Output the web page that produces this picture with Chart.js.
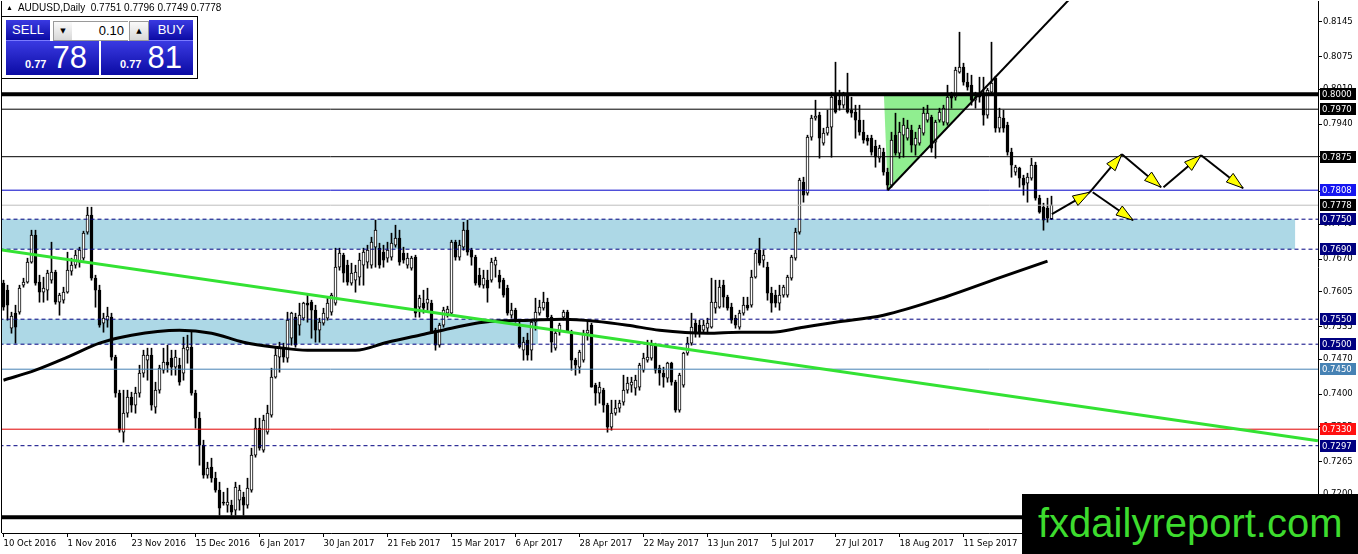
<!DOCTYPE html>
<html>
<head>
<meta charset="utf-8">
<title>AUDUSD Daily</title>
<script src="https://cdn.jsdelivr.net/npm/chart.js@4/dist/chart.umd.min.js"></script>
<style>
  html, body { margin: 0; padding: 0; background: #fff; overflow: hidden; }
  #wrap { position: relative; width: 1358px; height: 554px; }
  #chart { position: absolute; left: 0; top: 0; }
  #hdr { position: absolute; left: 6px; top: 2px; font: 10px 'Liberation Sans', Arial, sans-serif; color: #000; white-space: pre; }
  #hdr .tri { font-size: 7px; vertical-align: 1px; }
  #panel { position: absolute; left: 1px; top: 16px; width: 195px; height: 61px; background: #fff; border: 1px solid #000; }
  .blue { position: absolute; background: linear-gradient(to bottom, #3a3ae2, #0b0ba4); color: #fff; font-family: 'Liberation Sans', Arial, sans-serif; }
  .lbl { top: 20px; height: 20px; width: 44px; font-size: 13px; line-height: 20px; text-align: center; border-bottom: 1px solid #7a7aff; }
  .px { top: 41px; height: 34px; display: flex; align-items: baseline; }
  .px small { font-size: 11px; font-weight: bold; margin-right: 6px; }
  .px b { font-size: 31px; font-weight: normal; line-height: 34px; }
  .spin { position: absolute; top: 21px; width: 18px; height: 18px; background: linear-gradient(#fafafa, #d8d8d8); border: 1px solid #9a9a9a; font: 7px 'DejaVu Sans', sans-serif; text-align: center; line-height: 18px; color: #000; }
  #lot { position: absolute; left: 72px; top: 21px; width: 52px; height: 18px; border-top: 1px solid #9a9a9a; border-bottom: 1px solid #9a9a9a; padding-right: 4px; font: 13px 'Liberation Sans', Arial, sans-serif; text-align: right; line-height: 18px; background: #fff; }
  #wm { position: absolute; left: 1022px; top: 494px; width: 336px; height: 60px; background: #000; color: #3ddc2e; font: 40px 'Liberation Sans', Arial, sans-serif; line-height: 58px; box-sizing: border-box; padding-left: 16px; white-space: nowrap; }
</style>
</head>
<body>
<div id="wrap">
  <canvas id="chart" width="1358" height="554"></canvas>
  <div id="hdr"><span class="tri">▲</span>  AUDUSD,Daily  0.7751 0.7796 0.7749 0.7778</div>
  <div id="panel"></div>
  <div class="blue lbl" style="left:6px">SELL</div>
  <div class="spin" style="left:53px">▼</div>
  <div id="lot">0.10</div>
  <div class="spin" style="left:129px">▲</div>
  <div class="blue lbl" style="left:149px">BUY</div>
  <div class="blue px" style="left:6px;width:93px;padding-left:19px;box-sizing:border-box"><small>0.77</small><b>78</b></div>
  <div class="blue px" style="left:101px;width:92px;padding-left:19px;box-sizing:border-box"><small>0.77</small><b>81</b></div>
  <div id="wm">fxdailyreport.com</div>
</div>
<script>
// Daily bars, index 0 = 10 Oct 2016, one index per trading day
const opens = [
  0.7622, 0.7608, 0.7532, 0.7562, 0.7564, 0.7618, 0.7624, 0.7664, 0.7718, 0.7624,
  0.7604, 0.7608, 0.7628, 0.7644, 0.7584, 0.7588, 0.7604, 0.7646, 0.7658, 0.7664,
  0.7672, 0.7724, 0.7758, 0.7632, 0.7608, 0.7542, 0.7548, 0.7554, 0.7474, 0.7402,
  0.7324, 0.7362, 0.7394, 0.7378, 0.7402, 0.7442, 0.7468, 0.7478, 0.7374, 0.7408,
  0.7448, 0.7464, 0.7472, 0.7454, 0.7458, 0.7442, 0.7488, 0.7494, 0.7402, 0.7352,
  0.7298, 0.7238, 0.7254, 0.7232, 0.7208, 0.7184, 0.7178, 0.7178, 0.7168, 0.7188,
  0.7194, 0.7178, 0.7208, 0.7278, 0.7332, 0.7288, 0.7324, 0.7358, 0.7434, 0.7474,
  0.7494, 0.7472, 0.7512, 0.7554, 0.7538, 0.7552, 0.7582, 0.7584, 0.7568, 0.7528,
  0.7542, 0.7552, 0.7564, 0.7582, 0.7654, 0.7678, 0.7658, 0.7622, 0.7628, 0.7634,
  0.7658, 0.7664, 0.7658, 0.7694, 0.7692, 0.7684, 0.7672, 0.7674, 0.7698, 0.7712,
  0.7682, 0.7658, 0.7652, 0.7674, 0.7574, 0.7582, 0.7582, 0.7582, 0.7528, 0.7498,
  0.7538, 0.7562, 0.7562, 0.7704, 0.7674, 0.7694, 0.7728, 0.7688, 0.7674, 0.7638,
  0.7618, 0.7628, 0.7628, 0.7658, 0.7638, 0.7628, 0.7612, 0.7558, 0.7568, 0.7534,
  0.7488, 0.7508, 0.7488, 0.7544, 0.7562, 0.7572, 0.7584, 0.7554, 0.7492, 0.7524,
  0.7554, 0.7564, 0.7524, 0.7468, 0.7454, 0.7468, 0.7522, 0.7538, 0.7418, 0.7402,
  0.7408, 0.7378, 0.7334, 0.7362, 0.7372, 0.7384, 0.7408, 0.7418, 0.7412, 0.7414,
  0.7448, 0.7468, 0.7472, 0.7498, 0.7452, 0.7442, 0.7432, 0.7462, 0.7424, 0.7368,
  0.7418, 0.7482, 0.7502, 0.7542, 0.7538, 0.7528, 0.7532, 0.7534, 0.7572, 0.7574,
  0.7618, 0.7594, 0.7574, 0.7552, 0.7534, 0.7562, 0.7578, 0.7578, 0.7634, 0.7688,
  0.7668, 0.7654, 0.7602, 0.7598, 0.7582, 0.7598, 0.7598, 0.7632, 0.7672, 0.7724,
  0.7824, 0.7802, 0.7914, 0.7952, 0.7958, 0.7902, 0.7922, 0.7934, 0.7998, 0.7988,
  0.7978, 0.8002, 0.7968, 0.7964, 0.7948, 0.7924, 0.7912, 0.7912, 0.7896, 0.7872,
  0.7884, 0.7844, 0.7818, 0.7918, 0.7882, 0.7918, 0.7912, 0.7928, 0.7898, 0.7902,
  0.7922, 0.7948, 0.7954, 0.7904, 0.7948, 0.7944, 0.7942, 0.7998, 0.7994, 0.8044,
  0.8054, 0.8024, 0.8018, 0.7988, 0.7998, 0.8002, 0.7958, 0.8004, 0.8032, 0.7932,
  0.7952, 0.7938, 0.7884, 0.7844, 0.7852, 0.7832, 0.7822, 0.7832, 0.7858, 0.7792,
  0.7774, 0.7772, 0.7751
];
const highs = [
  0.7628, 0.7618, 0.7564, 0.7578, 0.7618, 0.7632, 0.7672, 0.7728, 0.7728, 0.7638,
  0.7634, 0.7648, 0.7704, 0.7648, 0.7602, 0.7614, 0.7684, 0.7672, 0.7688, 0.7694,
  0.7726, 0.7774, 0.7774, 0.7638, 0.7618, 0.7562, 0.7574, 0.7562, 0.7478, 0.7408,
  0.7408, 0.7408, 0.7404, 0.7414, 0.7458, 0.7488, 0.7492, 0.7492, 0.7424, 0.7458,
  0.7492, 0.7498, 0.7488, 0.7488, 0.7472, 0.7514, 0.7518, 0.7524, 0.7408, 0.7364,
  0.7308, 0.7264, 0.7272, 0.7244, 0.7224, 0.7204, 0.7212, 0.7188, 0.7224, 0.7218,
  0.7204, 0.7232, 0.7292, 0.7352, 0.7352, 0.7358, 0.7378, 0.7452, 0.7494, 0.7504,
  0.7502, 0.7564, 0.7564, 0.7562, 0.7582, 0.7584, 0.7598, 0.7588, 0.7578, 0.7552,
  0.7572, 0.7594, 0.7602, 0.7692, 0.7692, 0.7682, 0.7668, 0.7662, 0.7658, 0.7682,
  0.7692, 0.7698, 0.7714, 0.7748, 0.7702, 0.7698, 0.7704, 0.7722, 0.7738, 0.7728,
  0.7694, 0.7682, 0.7676, 0.7678, 0.7598, 0.7608, 0.7612, 0.7588, 0.7532, 0.7542,
  0.7574, 0.7576, 0.7708, 0.7708, 0.7708, 0.7744, 0.7748, 0.7692, 0.7678, 0.7652,
  0.7648, 0.7648, 0.7672, 0.7674, 0.7648, 0.7632, 0.7618, 0.7582, 0.7572, 0.7544,
  0.7514, 0.7522, 0.7548, 0.7592, 0.7588, 0.7604, 0.7592, 0.7558, 0.7528, 0.7542,
  0.7568, 0.7568, 0.7528, 0.7472, 0.7488, 0.7528, 0.7548, 0.7542, 0.7422, 0.7424,
  0.7412, 0.7382, 0.7388, 0.7388, 0.7388, 0.7438, 0.7434, 0.7434, 0.7438, 0.7462,
  0.7482, 0.7508, 0.7508, 0.7502, 0.7458, 0.7454, 0.7464, 0.7464, 0.7428, 0.7442,
  0.7484, 0.7514, 0.7562, 0.7548, 0.7548, 0.7548, 0.7552, 0.7632, 0.7628, 0.7628,
  0.7628, 0.7598, 0.7582, 0.7558, 0.7568, 0.7594, 0.7594, 0.7648, 0.7688, 0.7712,
  0.7688, 0.7664, 0.7614, 0.7608, 0.7618, 0.7618, 0.7638, 0.7678, 0.7732, 0.7832,
  0.7834, 0.7918, 0.7958, 0.7988, 0.7964, 0.7932, 0.7968, 0.8004, 0.8064, 0.8008,
  0.8004, 0.8042, 0.7994, 0.7978, 0.7978, 0.7948, 0.7918, 0.7918, 0.7908, 0.7898,
  0.7892, 0.7852, 0.7924, 0.7962, 0.7944, 0.7952, 0.7948, 0.7938, 0.7924, 0.7938,
  0.7974, 0.7978, 0.7958, 0.7948, 0.7972, 0.7978, 0.8018, 0.8004, 0.8054, 0.8124,
  0.8062, 0.8042, 0.8038, 0.8004, 0.8034, 0.8034, 0.8012, 0.8104, 0.8036, 0.7972,
  0.7968, 0.7944, 0.7892, 0.7858, 0.7854, 0.7838, 0.7842, 0.7872, 0.7864, 0.7798,
  0.7782, 0.7792, 0.7796
];
const lows = [
  0.7568, 0.7548, 0.7522, 0.7502, 0.7560, 0.7614, 0.7622, 0.7662, 0.7618, 0.7584,
  0.7584, 0.7588, 0.7622, 0.7580, 0.7558, 0.7582, 0.7602, 0.7638, 0.7652, 0.7654,
  0.7668, 0.7720, 0.7628, 0.7574, 0.7534, 0.7524, 0.7534, 0.7468, 0.7394, 0.7324,
  0.7304, 0.7354, 0.7364, 0.7362, 0.7394, 0.7434, 0.7428, 0.7368, 0.7362, 0.7402,
  0.7442, 0.7444, 0.7438, 0.7438, 0.7418, 0.7428, 0.7462, 0.7398, 0.7332, 0.7258,
  0.7232, 0.7232, 0.7224, 0.7204, 0.7158, 0.7178, 0.7164, 0.7158, 0.7158, 0.7168,
  0.7158, 0.7172, 0.7204, 0.7274, 0.7288, 0.7284, 0.7320, 0.7354, 0.7432, 0.7444,
  0.7464, 0.7464, 0.7498, 0.7494, 0.7518, 0.7548, 0.7544, 0.7512, 0.7504, 0.7504,
  0.7538, 0.7548, 0.7558, 0.7578, 0.7648, 0.7624, 0.7618, 0.7618, 0.7604, 0.7618,
  0.7618, 0.7652, 0.7652, 0.7654, 0.7652, 0.7654, 0.7664, 0.7668, 0.7694, 0.7658,
  0.7662, 0.7652, 0.7648, 0.7554, 0.7554, 0.7562, 0.7568, 0.7522, 0.7488, 0.7494,
  0.7534, 0.7554, 0.7558, 0.7668, 0.7668, 0.7688, 0.7678, 0.7658, 0.7618, 0.7614,
  0.7612, 0.7584, 0.7624, 0.7634, 0.7612, 0.7594, 0.7558, 0.7552, 0.7544, 0.7492,
  0.7468, 0.7468, 0.7468, 0.7528, 0.7558, 0.7568, 0.7548, 0.7484, 0.7488, 0.7518,
  0.7548, 0.7524, 0.7448, 0.7438, 0.7442, 0.7464, 0.7508, 0.7414, 0.7378, 0.7382,
  0.7364, 0.7324, 0.7328, 0.7358, 0.7364, 0.7378, 0.7402, 0.7404, 0.7398, 0.7408,
  0.7444, 0.7464, 0.7468, 0.7442, 0.7418, 0.7414, 0.7424, 0.7418, 0.7364, 0.7364,
  0.7414, 0.7478, 0.7498, 0.7514, 0.7514, 0.7522, 0.7524, 0.7532, 0.7562, 0.7572,
  0.7574, 0.7568, 0.7542, 0.7532, 0.7530, 0.7558, 0.7568, 0.7574, 0.7632, 0.7658,
  0.7654, 0.7588, 0.7564, 0.7574, 0.7568, 0.7594, 0.7594, 0.7628, 0.7668, 0.7720,
  0.7784, 0.7798, 0.7908, 0.7948, 0.7872, 0.7898, 0.7918, 0.7874, 0.7962, 0.7968,
  0.7972, 0.7962, 0.7954, 0.7912, 0.7918, 0.7902, 0.7898, 0.7878, 0.7854, 0.7864,
  0.7838, 0.7808, 0.7814, 0.7878, 0.7872, 0.7874, 0.7908, 0.7884, 0.7878, 0.7898,
  0.7918, 0.7944, 0.7884, 0.7872, 0.7944, 0.7938, 0.7938, 0.7972, 0.7988, 0.8042,
  0.8018, 0.8008, 0.7978, 0.7972, 0.7984, 0.7938, 0.7952, 0.7998, 0.7924, 0.7924,
  0.7924, 0.7878, 0.7834, 0.7838, 0.7814, 0.7798, 0.7784, 0.7828, 0.7788, 0.7762,
  0.7728, 0.7744, 0.7749
];
const closes = [
  0.7574, 0.7578, 0.7556, 0.7534, 0.7612, 0.7624, 0.7664, 0.7718, 0.7622, 0.7604,
  0.7612, 0.7642, 0.7644, 0.7584, 0.7598, 0.7604, 0.7648, 0.7658, 0.7678, 0.7688,
  0.7722, 0.7758, 0.7632, 0.7608, 0.7538, 0.7552, 0.7556, 0.7474, 0.7402, 0.7328,
  0.7362, 0.7394, 0.7378, 0.7402, 0.7442, 0.7478, 0.7478, 0.7378, 0.7408, 0.7452,
  0.7464, 0.7458, 0.7454, 0.7474, 0.7424, 0.7492, 0.7494, 0.7402, 0.7352, 0.7298,
  0.7238, 0.7252, 0.7232, 0.7208, 0.7172, 0.7182, 0.7184, 0.7164, 0.7214, 0.7208,
  0.7178, 0.7212, 0.7278, 0.7332, 0.7292, 0.7348, 0.7362, 0.7434, 0.7478, 0.7494,
  0.7474, 0.7548, 0.7562, 0.7498, 0.7558, 0.7582, 0.7578, 0.7568, 0.7528, 0.7544,
  0.7562, 0.7582, 0.7598, 0.7654, 0.7682, 0.7642, 0.7624, 0.7642, 0.7644, 0.7668,
  0.7684, 0.7688, 0.7704, 0.7728, 0.7658, 0.7668, 0.7688, 0.7702, 0.7712, 0.7664,
  0.7668, 0.7672, 0.7672, 0.7562, 0.7592, 0.7572, 0.7590, 0.7522, 0.7498, 0.7538,
  0.7568, 0.7570, 0.7704, 0.7674, 0.7698, 0.7728, 0.7684, 0.7674, 0.7622, 0.7618,
  0.7632, 0.7612, 0.7664, 0.7668, 0.7624, 0.7598, 0.7562, 0.7568, 0.7548, 0.7494,
  0.7504, 0.7478, 0.7544, 0.7564, 0.7574, 0.7584, 0.7554, 0.7504, 0.7522, 0.7538,
  0.7564, 0.7524, 0.7468, 0.7458, 0.7484, 0.7522, 0.7528, 0.7414, 0.7402, 0.7414,
  0.7378, 0.7334, 0.7362, 0.7372, 0.7382, 0.7408, 0.7422, 0.7424, 0.7428, 0.7458,
  0.7472, 0.7474, 0.7498, 0.7448, 0.7442, 0.7434, 0.7462, 0.7424, 0.7368, 0.7438,
  0.7482, 0.7502, 0.7534, 0.7522, 0.7522, 0.7538, 0.7542, 0.7584, 0.7584, 0.7614,
  0.7594, 0.7572, 0.7548, 0.7538, 0.7562, 0.7578, 0.7572, 0.7634, 0.7682, 0.7662,
  0.7678, 0.7602, 0.7582, 0.7582, 0.7598, 0.7614, 0.7634, 0.7674, 0.7724, 0.7828,
  0.7798, 0.7914, 0.7952, 0.7956, 0.7912, 0.7922, 0.7934, 0.7994, 0.7964, 0.7978,
  0.8002, 0.7964, 0.7962, 0.7948, 0.7924, 0.7908, 0.7906, 0.7884, 0.7874, 0.7892,
  0.7844, 0.7818, 0.7908, 0.7882, 0.7924, 0.7938, 0.7932, 0.7898, 0.7912, 0.7932,
  0.7962, 0.7962, 0.7892, 0.7944, 0.7964, 0.7972, 0.7994, 0.7992, 0.8048, 0.8054,
  0.8024, 0.8014, 0.7988, 0.7994, 0.7994, 0.7958, 0.8008, 0.8022, 0.7932, 0.7954,
  0.7932, 0.7884, 0.7858, 0.7854, 0.7832, 0.7818, 0.7834, 0.7858, 0.7792, 0.7764,
  0.7748, 0.7752, 0.7778
];

// time axis labels (one every 16 bars)
const tickIdx = [0, 16, 32, 48, 64, 80, 96, 112, 128, 144, 160, 176, 192, 208, 224, 240];
const tickLabels = ['10 Oct 2016', '1 Nov 2016', '23 Nov 2016', '15 Dec 2016', '6 Jan 2017', '30 Jan 2017',
  '21 Feb 2017', '15 Mar 2017', '6 Apr 2017', '28 Apr 2017', '22 May 2017', '13 Jun 2017',
  '5 Jul 2017', '27 Jul 2017', '18 Aug 2017', '11 Sep 2017'];
const priceTicks = [0.8145, 0.8075, 0.8010, 0.7940, 0.7875, 0.7805, 0.7740, 0.7670, 0.7605,
  0.7535, 0.7470, 0.7400, 0.7335, 0.7265, 0.7200];

// moving average, read at sample bars
const maIdx = [0, 8, 16, 24, 32, 44, 52, 60, 68, 76, 88, 96, 104, 112, 120, 132, 140, 148, 156,
  164, 176, 184, 192, 200, 208, 220, 236, 248, 261];
const maVal = [0.7428, 0.7448, 0.7474, 0.7502, 0.7518, 0.7528, 0.7522, 0.7504, 0.7494, 0.7488,
  0.7488, 0.7504, 0.7518, 0.7532, 0.7544, 0.7548, 0.7550, 0.7546, 0.7538, 0.7528, 0.7522,
  0.7524, 0.7524, 0.7534, 0.7544, 0.7558, 0.7596, 0.7630, 0.7666];

// horizontal price levels
const levels = [0.8000, 0.7970, 0.7875, 0.7808, 0.7778, 0.7750, 0.7690, 0.7550, 0.7500, 0.7450, 0.7330, 0.7297, 0.7154];

// shaded zones
const zoneHigh = [0.7750, 0.7550];
const zoneLow = [0.7690, 0.7500];
const zoneFrom = [-0.4, -0.4];
const zoneTo = [322.9, 133.6];

// drawn objects (bar index, price)
const greenTrendX = [-0.875, 328.6];
const greenTrendY = [0.7689, 0.7307];
const blackTrendX = [221.05, 274.1];
const blackTrendY = [0.7808, 0.8254];
const triX = [220.1, 243.6, 221.05];
const triY = [0.8000, 0.8000, 0.7808];
const arrowX0 = [262.1, 271.6, 272.3, 279.6, 290.0, 299.4];
const arrowY0 = [0.7760, 0.7804, 0.7804, 0.7880, 0.7814, 0.7878];
const arrowX1 = [271.6, 279.6, 282.4, 289.4, 299.4, 309.9];
const arrowY1 = [0.7804, 0.7880, 0.7748, 0.7814, 0.7878, 0.7812];

// styles for the levels
const levelColor = ['#000', '#000', '#000', '#0000c8', '#bdbdbd', '#000080', '#000080', '#000080', '#000080', '#4682b4', '#e00000', '#000080', '#000'];
const levelWidth = [4, 1, 1, 1, 1, 1, 1, 1, 1, 1, 1, 1, 4];
const levelDash = [0, 0, 0, 0, 0, 1, 1, 1, 1, 0, 0, 1, 0];
const levelBox = ['#000', '#000', '#000', '#1515f0', '#000', '#000080', '#000080', '#000080', '#000080', '#4682b4', '#ff1010', '#000080', '#000'];

Chart.defaults.font.family = "'DejaVu Sans', sans-serif";
Chart.defaults.font.size = 8.5;
Chart.defaults.color = '#000';

const wickData = highs.map((h, i) => ({ x: i, y: [lows[i], h] }));
const bodyData = opens.map((o, i) => ({ x: i, y: [Math.min(o, closes[i]), Math.max(o, closes[i])] }));
const bodyColors = opens.map((o, i) => closes[i] >= o ? '#fff' : '#000');

const datasets = [
  { type: 'bar', data: wickData, backgroundColor: '#000', barThickness: 1, grouped: false, order: 20 },
  { type: 'bar', data: bodyData, backgroundColor: bodyColors, borderColor: '#000', borderWidth: 1,
    borderSkipped: false, barThickness: 3, minBarLength: 1, grouped: false, order: 19 },
  { type: 'line', data: maIdx.map((v, k) => ({ x: v, y: maVal[k] })), borderColor: '#000', borderWidth: 3,
    pointRadius: 0, cubicInterpolationMode: 'monotone', order: 5 },
  { type: 'line', data: greenTrendX.map((v, k) => ({ x: v, y: greenTrendY[k] })), borderColor: '#33e233',
    borderWidth: 3, pointRadius: 0, order: 4 },
  { type: 'line', data: blackTrendX.map((v, k) => ({ x: v, y: blackTrendY[k] })), borderColor: '#000',
    borderWidth: 2, pointRadius: 0, order: 4 }
];
levels.forEach((lv, k) => {
  datasets.push({
    type: 'line', data: [{ x: -1, y: lv }, { x: 330, y: lv }], borderColor: levelColor[k],
    borderWidth: levelWidth[k], borderDash: levelDash[k] ? [4, 3] : [], pointRadius: 0, order: 6
  });
});

const overlay = {
  id: 'overlay',
  beforeDatasetsDraw(chart) {
    const { ctx, chartArea: a, scales: { x, y } } = chart;
    ctx.save();
    ctx.beginPath();
    ctx.rect(a.left, a.top, a.right - a.left, a.bottom - a.top);
    ctx.clip();
    ctx.fillStyle = '#add8e6';
    zoneLow.forEach((lo, k) => {
      const x0 = x.getPixelForValue(zoneFrom[k]), x1 = x.getPixelForValue(zoneTo[k]);
      const y0 = y.getPixelForValue(zoneHigh[k]), y1 = y.getPixelForValue(lo);
      ctx.fillRect(x0, y0, x1 - x0, y1 - y0);
    });
    ctx.fillStyle = '#90ee90';
    ctx.beginPath();
    triX.forEach((v, k) => {
      const px = x.getPixelForValue(v), py = y.getPixelForValue(triY[k]);
      if (k) ctx.lineTo(px, py); else ctx.moveTo(px, py);
    });
    ctx.closePath();
    ctx.fill();
    ctx.restore();
  },
  afterDatasetsDraw(chart) {
    const { ctx, scales: { x, y } } = chart;
    ctx.save();
    arrowX0.forEach((v, k) => {
      const x0 = x.getPixelForValue(v), y0 = y.getPixelForValue(arrowY0[k]);
      const x1 = x.getPixelForValue(arrowX1[k]), y1 = y.getPixelForValue(arrowY1[k]);
      ctx.strokeStyle = '#000';
      ctx.lineWidth = 2;
      ctx.beginPath();
      ctx.moveTo(x0, y0);
      ctx.lineTo(x1, y1);
      ctx.stroke();
      // arrow head
      const ang = Math.atan2(y1 - y0, x1 - x0);
      const len = 17, half = 5.5;
      const bx = x1 - Math.cos(ang) * len, by = y1 - Math.sin(ang) * len;
      ctx.beginPath();
      ctx.moveTo(x1, y1);
      ctx.lineTo(bx - Math.sin(ang) * half, by + Math.cos(ang) * half);
      ctx.lineTo(bx + Math.sin(ang) * half, by - Math.cos(ang) * half);
      ctx.closePath();
      ctx.fillStyle = '#ffff00';
      ctx.fill();
      ctx.lineWidth = 1;
      ctx.stroke();
    });
    ctx.restore();
  },
  afterDraw(chart) {
    const { ctx, chartArea: a, scales: { y } } = chart;
    ctx.save();
    ctx.strokeStyle = '#000';
    ctx.lineWidth = 1;
    ctx.beginPath();
    ctx.moveTo(a.left - 0.5, a.top);
    ctx.lineTo(a.left - 0.5, a.bottom);
    ctx.stroke();
    ctx.font = "8.5px 'DejaVu Sans', sans-serif";
    ctx.textBaseline = 'middle';
    levels.forEach((lv, k) => {
      const py = Math.round(y.getPixelForValue(lv));
      ctx.fillStyle = levelBox[k];
      ctx.fillRect(a.right + 2, py - 6, 36, 12);
      ctx.fillStyle = '#fff';
      ctx.fillText(lv.toFixed(4), a.right + 4, py + 0.5);
    });
    ctx.restore();
  }
};

new Chart(document.getElementById('chart'), {
  type: 'bar',
  data: { datasets },
  plugins: [overlay],
  options: {
    responsive: false,
    animation: false,
    events: [],
    layout: { padding: { top: 1, left: 2, right: 0, bottom: 0 } },
    plugins: { legend: { display: false }, tooltip: { enabled: false } },
    scales: {
      x: {
        type: 'linear',
        min: -0.375,
        max: 328.625,
        offset: false,
        bounds: 'data',
        grid: { display: true, drawOnChartArea: false, drawTicks: true, tickLength: 4, color: '#000', offset: false },
        border: { display: true, color: '#000' },
        ticks: { autoSkip: false, maxRotation: 0, align: 'start', padding: 2,
          callback: (v) => tickLabels[tickIdx.indexOf(v)] },
        afterBuildTicks: (s) => { s.ticks = tickIdx.map(v => ({ value: v })); },
        afterFit: (s) => { s.height = 21; s.paddingLeft = 0; s.paddingRight = 0; }
      },
      y: {
        type: 'linear',
        position: 'right',
        min: 0.71224,
        max: 0.81864,
        beginAtZero: false,
        grid: { display: true, drawOnChartArea: false, drawTicks: true, tickLength: 4, color: '#000' },
        border: { display: true, color: '#000' },
        ticks: { autoSkip: false, padding: 1, callback: (v) => v.toFixed(4) },
        afterBuildTicks: (s) => { s.ticks = priceTicks.map(v => ({ value: v })); },
        afterFit: (s) => { s.width = 40; s.paddingTop = 0; s.paddingBottom = 0; }
      }
    }
  }
});
</script>
</body>
</html>
